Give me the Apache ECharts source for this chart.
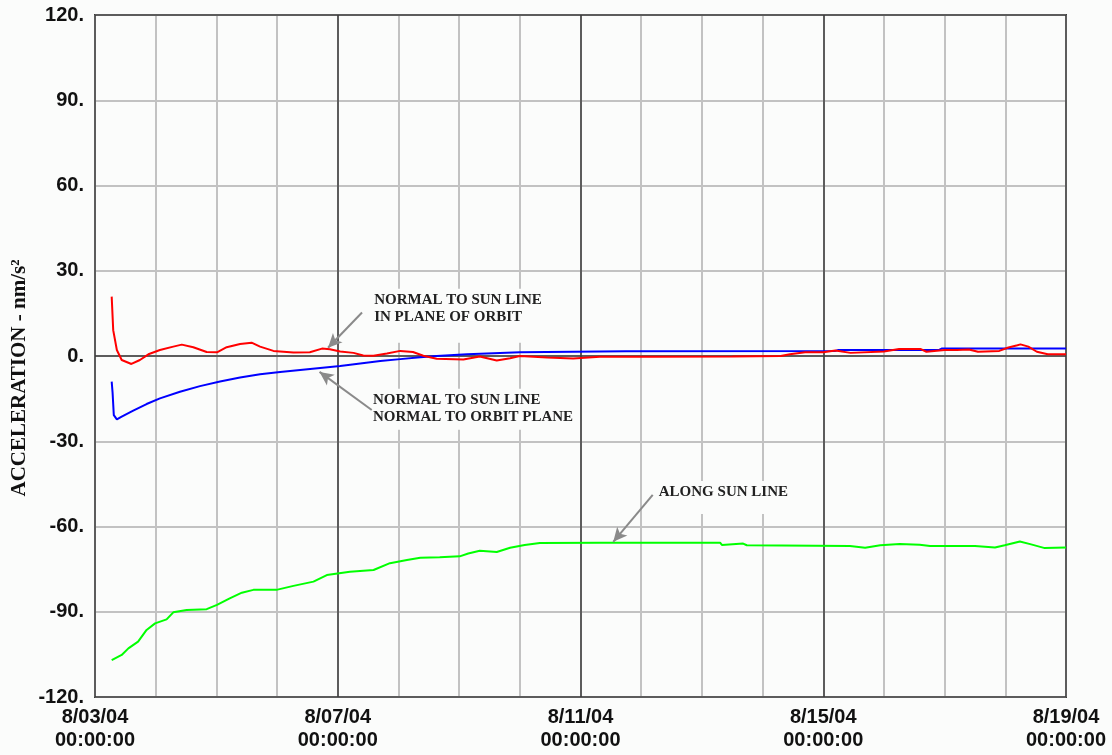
<!DOCTYPE html>
<html>
<head>
<meta charset="utf-8">
<script src="https://cdn.jsdelivr.net/npm/echarts@6/dist/echarts.min.js"></script>
<style>
  html, body { margin: 0; padding: 0; background: #fbfcfb; }
  #chart { width: 1112px; height: 755px; }
</style>
</head>
<body>
<div id="chart"></div>
<script>
// Time is measured in days from 8/03/04 00:00:00.
const dayLabels = ['8/03/04', '8/07/04', '8/11/04', '8/15/04', '8/19/04'];
const yTicks = [-120, -90, -60, -30, 0, 30, 60, 90, 120];

// Normal to sun line, in plane of orbit (red)
const inPlaneT = [0.275, 0.30, 0.36, 0.44, 0.60, 0.74, 0.88, 1.07, 1.29, 1.43, 1.62, 1.84, 2.01, 2.17, 2.39, 2.58, 2.72, 2.94, 3.27, 3.54, 3.74, 3.87, 4.04, 4.26, 4.42, 4.59, 4.81, 5.03, 5.24, 5.41, 5.63, 6.07, 6.34, 6.62, 6.84, 7.00, 7.45, 7.88, 8.32, 9.15, 10.5, 11.3, 11.45, 11.7, 12.0, 12.2, 12.45, 13.0, 13.25, 13.6, 13.7, 14.0, 14.2, 14.4, 14.55, 14.9, 15.05, 15.2, 15.25, 15.38, 15.52, 15.7, 16.0];
const inPlaneV = [20.9, 9.1, 2.1, -1.4, -2.8, -1.4, 0.6, 2.1, 3.3, 4.0, 3.1, 1.4, 1.3, 3.1, 4.2, 4.7, 3.3, 1.8, 1.2, 1.3, 2.6, 2.4, 1.6, 1.1, 0.2, 0.1, 0.9, 1.8, 1.4, 0.1, -1.0, -1.2, -0.2, -1.6, -0.8, 0.0, -0.5, -0.9, -0.3, -0.3, -0.2, 0.0, 0.6, 1.3, 1.3, 1.9, 1.1, 1.6, 2.5, 2.5, 1.5, 2.1, 2.1, 2.3, 1.5, 1.8, 3.0, 3.8, 4.1, 3.3, 1.5, 0.6, 0.6];

// Normal to sun line, normal to orbit plane (blue)
const normalT = [0.275, 0.29, 0.31, 0.36, 0.44, 0.63, 0.85, 1.07, 1.40, 1.73, 2.06, 2.39, 2.72, 3.05, 3.38, 3.71, 4.04, 4.37, 4.70, 5.03, 5.36, 5.63, 6.13, 7.00, 8.75, 12.2, 12.25, 13.9, 13.95, 16.0];
const normalV = [-9.0, -13.0, -20.8, -22.3, -21.3, -19.2, -16.9, -14.9, -12.6, -10.6, -9.0, -7.6, -6.4, -5.6, -4.9, -4.2, -3.5, -2.6, -1.8, -1.1, -0.4, 0.0, 0.6, 1.3, 1.7, 1.8, 2.1, 2.1, 2.6, 2.6];

// Along sun line (green)
const alongT = [0.275, 0.44, 0.55, 0.71, 0.85, 0.99, 1.18, 1.29, 1.51, 1.84, 2.01, 2.22, 2.42, 2.61, 2.99, 3.27, 3.60, 3.82, 4.20, 4.59, 4.86, 5.14, 5.36, 5.68, 6.01, 6.15, 6.34, 6.51, 6.62, 6.84, 7.08, 7.33, 8.32, 10.30, 10.33, 10.68, 10.74, 12.44, 12.69, 12.94, 13.26, 13.59, 13.76, 14.50, 14.83, 14.99, 15.24, 15.41, 15.65, 16.0];
const alongV = [-107.0, -105.2, -102.9, -100.5, -96.4, -94.1, -92.7, -90.2, -89.4, -89.1, -87.6, -85.3, -83.3, -82.3, -82.3, -80.9, -79.4, -77.1, -75.9, -75.3, -72.9, -71.8, -71.0, -70.8, -70.5, -69.5, -68.5, -68.8, -69.0, -67.5, -66.5, -65.8, -65.7, -65.7, -66.5, -66.0, -66.6, -66.9, -67.5, -66.6, -66.2, -66.4, -66.9, -66.9, -67.4, -66.6, -65.3, -66.2, -67.6, -67.4];

// Callout texts (top-left of the text, in [day, value]) and their arrows
const notes = [
  { lines: ['NORMAL TO SUN LINE', 'IN PLANE OF ORBIT'], at: [4.60, 22.6], pad: [3, 8, 17, 6], tail: [4.40, 15.3], tip: [3.84, 2.9] },
  { lines: ['NORMAL TO SUN LINE', 'NORMAL TO ORBIT PLANE'], at: [4.58, -12.6], pad: [3, 6, 4, 6], tail: [4.56, -19.0], tip: [3.70, -5.6] },
  { lines: ['ALONG SUN LINE'], at: [9.29, -45.0], pad: [3, 8, 13, 10], tail: [9.19, -48.9], tip: [8.54, -65.4] }
];

const pair = (ts, vs) => ts.map((t, i) => [t, vs[i]]);

const tickFont = { fontFamily: 'Liberation Sans, Arial, sans-serif', fontWeight: 'bold', fontSize: 20, color: '#111' };

const chart = echarts.init(document.getElementById('chart'), null, { renderer: 'canvas' });

const option = {
  backgroundColor: '#fbfcfb',
  animation: false,
  grid: { left: 95, right: 46, top: 15, bottom: 58, show: true, borderColor: '#3a3a3a', borderWidth: 2, backgroundColor: 'transparent' },
  xAxis: [
    {
      type: 'value', min: 0, max: 16, interval: 1,
      axisLine: { show: false }, axisTick: { show: false },
      splitLine: { show: true, lineStyle: { color: '#c2c2c2', width: 2 } },
      axisLabel: Object.assign({}, tickFont, {
        margin: 9, lineHeight: 23, showMinLabel: true, showMaxLabel: true,
        formatter: v => (v % 4 === 0 ? dayLabels[v / 4] + '\n00:00:00' : '')
      })
    },
    {
      type: 'value', min: 0, max: 16, interval: 4, position: 'bottom', z: 3,
      axisLine: { show: false }, axisTick: { show: false }, axisLabel: { show: false },
      splitLine: { show: true, lineStyle: { color: '#3a3a3a', width: 1.5 } }
    }
  ],
  yAxis: [
    {
      type: 'value', min: -120, max: 120, interval: 30,
      axisLine: { show: false }, axisTick: { show: false },
      splitLine: { show: true, lineStyle: { color: '#c2c2c2', width: 2 } },
      axisLabel: Object.assign({}, tickFont, { margin: 11, formatter: v => v + '.' })
    },
    {
      type: 'value', min: -120, max: 120, interval: 120, position: 'left', z: 3,
      axisLine: { show: false }, axisTick: { show: false }, axisLabel: { show: false },
      splitLine: { show: true, lineStyle: { color: '#3a3a3a', width: 1.5 } }
    }
  ],
  series: [
    {
      name: 'ALONG SUN LINE', type: 'line', xAxisIndex: 0, yAxisIndex: 0,
      data: pair(alongT, alongV), showSymbol: false, symbol: 'none',
      lineStyle: { color: '#00ff00', width: 2 }, z: 4,
      markLine: {
        silent: true, animation: false,
        label: { show: false },
        lineStyle: { color: '#8a8a8a', width: 2, type: 'solid' },
        symbol: ['none', 'arrow'], symbolSize: [10, 14],
        data: notes.map(n => [{ coord: n.tail }, { coord: n.tip }])
      }
    },
    {
      name: 'NORMAL TO ORBIT PLANE', type: 'line', xAxisIndex: 0, yAxisIndex: 0,
      data: pair(normalT, normalV), showSymbol: false, symbol: 'none',
      lineStyle: { color: '#0000ff', width: 2 }, z: 4
    },
    {
      name: 'IN PLANE OF ORBIT', type: 'line', xAxisIndex: 0, yAxisIndex: 0,
      data: pair(inPlaneT, inPlaneV), showSymbol: false, symbol: 'none',
      lineStyle: { color: '#ff0000', width: 2 }, z: 5
    }
  ]
};

chart.setOption(option);

// Axis title and callout boxes, placed from data coordinates
const graphics = [
  {
    type: 'text', z: 10,
    x: 20, y: 378, rotation: Math.PI / 2,
    style: {
      text: 'ACCELERATION - nm/s²',
      font: 'bold 21px "Liberation Serif", "Times New Roman", serif',
      fill: '#111', align: 'center', verticalAlign: 'middle'
    }
  }
];
notes.forEach(n => {
  const p = chart.convertToPixel({ xAxisIndex: 0, yAxisIndex: 0 }, n.at);
  graphics.push({
    type: 'text', z: 2,
    x: p[0] - n.pad[3], y: p[1] - n.pad[0],
    style: {
      text: n.lines.join('\n'),
      font: 'bold 15px "Liberation Serif", "Times New Roman", serif',
      lineHeight: 17, fill: '#222',
      backgroundColor: '#fbfcfb', padding: n.pad
    }
  });
});
chart.setOption({ graphic: graphics });
</script>
</body>
</html>
